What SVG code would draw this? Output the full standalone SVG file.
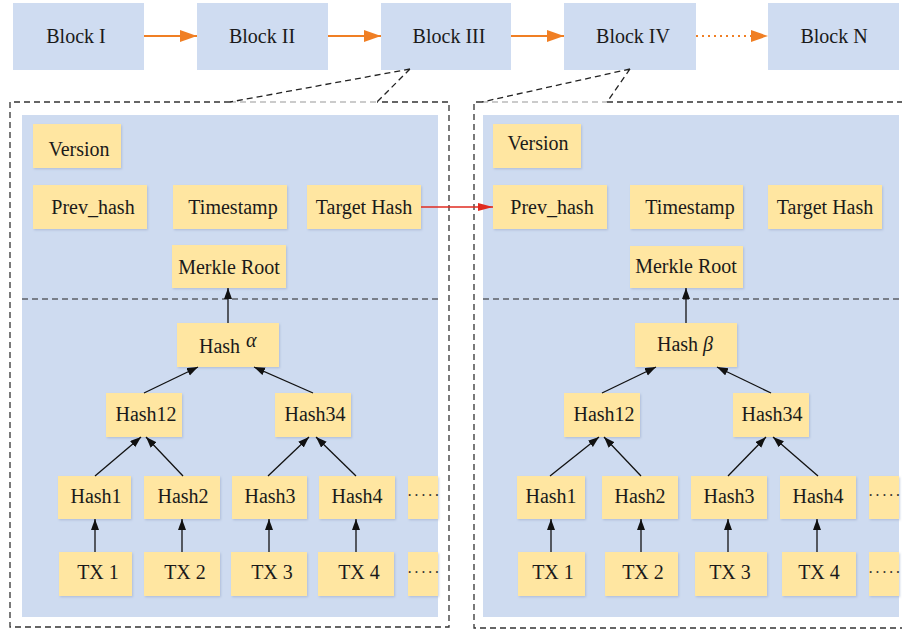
<svg xmlns="http://www.w3.org/2000/svg" width="902" height="635" viewBox="0 0 902 635" font-family="'Liberation Serif', 'Times New Roman', 'DejaVu Serif', serif">
<defs>
<style>
text{font-family:'Liberation Serif','Times New Roman','DejaVu Serif',serif;font-size:20px;fill:#1a1a1a;text-anchor:middle}
.blk{fill:#cfdcf1}
.panel{fill:#cedbf0}
.nd{fill:#ffe6a1;filter:url(#sh)}
.frame{fill:none;stroke:#333;stroke-width:1.3;stroke-dasharray:6 4}
.gray{fill:none;stroke:#bbb;stroke-width:1.3;stroke-dasharray:6 4}
.div{stroke:#222;stroke-width:1.2;stroke-dasharray:6 4}
.ar{stroke:#111;stroke-width:1.3;fill:none;marker-end:url(#ah)}
.or{stroke:#f07f24;stroke-width:2;fill:none;marker-end:url(#oh)}
.dots{font-size:16px;letter-spacing:1.5px;text-anchor:start;fill:#333}
</style>
<filter id="sh" x="-10%" y="-10%" width="130%" height="130%">
<feDropShadow dx="1" dy="1.2" stdDeviation="0.8" flood-color="#8a9bc0" flood-opacity="0.45"/>
</filter>
<marker id="ah" markerUnits="userSpaceOnUse" markerWidth="12" markerHeight="10" refX="11" refY="4" orient="auto">
<path d="M0,0 L11,4 L0,8 Z" fill="#111"/>
</marker>
<marker id="oh" markerUnits="userSpaceOnUse" markerWidth="18" markerHeight="14" refX="17" refY="6" orient="auto">
<path d="M0,0 L17,6 L0,12 Z" fill="#f07f24"/>
</marker>
<marker id="rh" markerUnits="userSpaceOnUse" markerWidth="16" markerHeight="10" refX="15" refY="4" orient="auto">
<path d="M0,0 L15,4 L0,8 Z" fill="#e02b20"/>
</marker>
</defs>
<rect width="902" height="635" fill="#fff"/>

<!-- frames and panels -->
<g id="frames">
<path class="frame" d="M230,102 H10 V627 H449 V102 H377"/>
<path class="gray" d="M230,102 H377"/>
<path class="frame" d="M482,102 H474 V628 H902 M607,102 H902"/>
<path class="gray" d="M482,102 H607"/>
<rect class="panel" x="22" y="115" width="416" height="502"/>
<rect class="panel" x="483" y="115" width="416" height="502"/>
<line class="div" x1="22" y1="299" x2="438" y2="299"/>
<line class="div" x1="483" y1="299" x2="899" y2="299"/>
</g>

<!-- top chain -->
<g id="block1"><rect class="blk" x="13" y="3" width="131" height="67"/><text x="76" y="43">Block I</text></g>
<g id="block2"><rect class="blk" x="197" y="3" width="131" height="67"/><text x="262" y="43">Block II</text></g>
<g id="block3"><rect class="blk" x="381" y="3" width="130" height="67"/><text x="449" y="43">Block III</text></g>
<g id="block4"><rect class="blk" x="564" y="3" width="132" height="67"/><text x="633" y="43">Block IV</text></g>
<g id="blockN"><rect class="blk" x="768" y="3" width="131" height="67"/><text x="834" y="43">Block N</text></g>

<!-- left block contents -->
<g id="L-version"><rect class="nd" x="33" y="124" width="88" height="44"/><text x="79" y="156">Version</text></g>
<g id="L-prev"><rect class="nd" x="33" y="185" width="114" height="44"/><text x="93" y="214">Prev_hash</text></g>
<g id="L-time"><rect class="nd" x="173" y="185" width="114" height="44"/><text x="233" y="214">Timestamp</text></g>
<g id="L-target"><rect class="nd" x="307" y="185" width="114" height="44"/><text x="364" y="214">Target Hash</text></g>
<g id="L-merkle"><rect class="nd" x="172" y="245" width="114" height="43"/><text x="229" y="274">Merkle Root</text></g>
<g id="L-hashA"><rect class="nd" x="177" y="323" width="102" height="44"/><text x="199" y="353" style="text-anchor:start">Hash<tspan x="246" y="347" font-style="italic">α</tspan></text></g>
<g id="L-h12"><rect class="nd" x="106" y="393" width="76" height="44"/><text x="146" y="421">Hash12</text></g>
<g id="L-h34"><rect class="nd" x="275" y="393" width="76" height="44"/><text x="315" y="421">Hash34</text></g>
<g id="L-h1"><rect class="nd" x="58" y="476" width="73" height="43"/><text x="96" y="503">Hash1</text></g>
<g id="L-h2"><rect class="nd" x="144" y="476" width="76" height="43"/><text x="183" y="503">Hash2</text></g>
<g id="L-h3"><rect class="nd" x="232" y="476" width="75" height="43"/><text x="270" y="503">Hash3</text></g>
<g id="L-h4"><rect class="nd" x="319" y="476" width="76" height="43"/><text x="357" y="503">Hash4</text></g>
<g id="L-hd"><rect class="nd" x="408" y="476" width="30" height="43"/><text class="dots" x="407" y="501">·····</text></g>
<g id="L-tx1"><rect class="nd" x="59" y="552" width="73" height="44"/><text x="98" y="579">TX 1</text></g>
<g id="L-tx2"><rect class="nd" x="144" y="552" width="76" height="44"/><text x="185" y="579">TX 2</text></g>
<g id="L-tx3"><rect class="nd" x="231" y="552" width="76" height="44"/><text x="272" y="579">TX 3</text></g>
<g id="L-tx4"><rect class="nd" x="318" y="552" width="76" height="44"/><text x="359" y="579">TX 4</text></g>
<g id="L-txd"><rect class="nd" x="408" y="552" width="30" height="44"/><text class="dots" x="407" y="578">·····</text></g>

<!-- right block contents -->
<g id="R-version"><rect class="nd" x="493" y="124" width="88" height="44"/><text x="538" y="150">Version</text></g>
<g id="R-prev"><rect class="nd" x="493" y="185" width="114" height="44"/><text x="552" y="214">Prev_hash</text></g>
<g id="R-time"><rect class="nd" x="630" y="185" width="113" height="44"/><text x="690" y="214">Timestamp</text></g>
<g id="R-target"><rect class="nd" x="768" y="185" width="114" height="44"/><text x="825" y="214">Target Hash</text></g>
<g id="R-merkle"><rect class="nd" x="630" y="246" width="113" height="42"/><text x="686" y="273">Merkle Root</text></g>
<g id="R-hashB"><rect class="nd" x="635" y="323" width="102" height="44"/><text x="657" y="351" style="text-anchor:start">Hash<tspan x="703" font-style="italic">β</tspan></text></g>
<g id="R-h12"><rect class="nd" x="564" y="393" width="76" height="44"/><text x="604" y="421">Hash12</text></g>
<g id="R-h34"><rect class="nd" x="733" y="393" width="76" height="44"/><text x="772" y="421">Hash34</text></g>
<g id="R-h1"><rect class="nd" x="517" y="476" width="68" height="43"/><text x="551" y="503">Hash1</text></g>
<g id="R-h2"><rect class="nd" x="602" y="476" width="76" height="43"/><text x="640" y="503">Hash2</text></g>
<g id="R-h3"><rect class="nd" x="691" y="476" width="76" height="43"/><text x="729" y="503">Hash3</text></g>
<g id="R-h4"><rect class="nd" x="780" y="476" width="76" height="43"/><text x="818" y="503">Hash4</text></g>
<g id="R-hd"><rect class="nd" x="869" y="476" width="30" height="43"/><text class="dots" x="868" y="501">·····</text></g>
<g id="R-tx1"><rect class="nd" x="518" y="552" width="67" height="44"/><text x="553" y="579">TX 1</text></g>
<g id="R-tx2"><rect class="nd" x="605" y="552" width="73" height="44"/><text x="643" y="579">TX 2</text></g>
<g id="R-tx3"><rect class="nd" x="695" y="552" width="72" height="44"/><text x="730" y="579">TX 3</text></g>
<g id="R-tx4"><rect class="nd" x="782" y="552" width="74" height="44"/><text x="819" y="579">TX 4</text></g>
<g id="R-txd"><rect class="nd" x="869" y="552" width="30" height="44"/><text class="dots" x="868" y="578">·····</text></g>

<!-- connectors -->
<g id="connectors">
<line class="or" x1="144" y1="36" x2="197" y2="36"/>
<line class="or" x1="328" y1="36" x2="381" y2="36"/>
<line class="or" x1="511" y1="36" x2="564" y2="36"/>
<line class="or" x1="696" y1="36" x2="768" y2="36" stroke-dasharray="2 4"/>
<path d="M410,69 L230,102 M410,69 L377,102 M630,69 L482,102 M630,69 L607,102" fill="none" stroke="#222" stroke-width="1.3" stroke-dasharray="6 4"/>
<line x1="421" y1="207" x2="493" y2="207" stroke="#e02b20" stroke-width="1.3" marker-end="url(#rh)"/>
<line class="ar" x1="228" y1="323" x2="228" y2="288"/>
<line class="ar" x1="144" y1="393" x2="198" y2="367"/>
<line class="ar" x1="313" y1="393" x2="254" y2="367"/>
<line class="ar" x1="95" y1="476" x2="141" y2="437"/>
<line class="ar" x1="183" y1="476" x2="146" y2="437"/>
<line class="ar" x1="268" y1="476" x2="309" y2="437"/>
<line class="ar" x1="356" y1="476" x2="316" y2="437"/>
<line class="ar" x1="95" y1="552" x2="95" y2="519"/>
<line class="ar" x1="182" y1="552" x2="182" y2="519"/>
<line class="ar" x1="269" y1="552" x2="269" y2="519"/>
<line class="ar" x1="356" y1="552" x2="356" y2="519"/>
<line class="ar" x1="686" y1="323" x2="686" y2="288"/>
<line class="ar" x1="602" y1="393" x2="656" y2="367"/>
<line class="ar" x1="771" y1="393" x2="717" y2="367"/>
<line class="ar" x1="550" y1="476" x2="599" y2="437"/>
<line class="ar" x1="641" y1="476" x2="604" y2="437"/>
<line class="ar" x1="728" y1="476" x2="766" y2="437"/>
<line class="ar" x1="818" y1="476" x2="773" y2="437"/>
<line class="ar" x1="551" y1="552" x2="551" y2="519"/>
<line class="ar" x1="641" y1="552" x2="641" y2="519"/>
<line class="ar" x1="728" y1="552" x2="728" y2="519"/>
<line class="ar" x1="817" y1="552" x2="817" y2="519"/>
</g>
</svg>
